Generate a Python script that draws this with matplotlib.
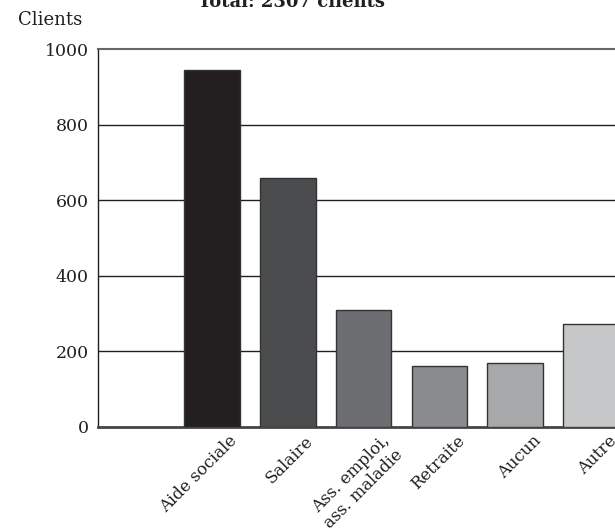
import numpy as np
import matplotlib.pyplot as plt
import matplotlib.transforms as mtransforms

# revenus principaux des clients
categories = ['', 'Aide sociale', 'Salaire', 'Ass. emploi,\nass. maladie',
              'Retraite', 'Aucun', 'Autre']
clients = [0, 946, 658, 310, 161, 170, 271]
colors = ['#ffffff', '#231f20', '#4b4c4e', '#6c6d70', '#8a8b8e', '#a7a8aa', '#c6c7c8']
yticks = [0, 200, 400, 600, 800, 1000]

plt.rcParams['font.family'] = 'DejaVu Serif'

fig = plt.figure(figsize=(6.15, 5.31), dpi=100)
ax = fig.add_axes([0.1598, 0.1964, 0.8628, 0.7107])

x = np.arange(len(categories))
# la premiere categorie reste vide
ax.bar(x[1:], clients[1:], width=0.735, color=colors[1:],
       edgecolor='#333333', linewidth=1, zorder=3)

ax.set_xlim(-0.5, 6.5)
ax.set_ylim(0, 1000)
ax.set_yticks(yticks)
ax.set_yticklabels([str(v) for v in yticks], fontsize=12.5, color='#231f20')
ax.tick_params(axis='y', length=0, pad=7)

for v in yticks[1:-1]:
    ax.axhline(v, color='#231f20', linewidth=1, zorder=1)

ax.set_xticks(x[1:])
ax.set_xticklabels(categories[1:], rotation=45, ha='right', va='top',
                   rotation_mode='anchor', fontsize=12, color='#231f20')
ax.tick_params(axis='x', length=0, pad=4)
# decaler les etiquettes vers la droite
offset = mtransforms.ScaledTranslation(17 / 100, 0, fig.dpi_scale_trans)
for lab in ax.get_xticklabels():
    lab.set_transform(lab.get_transform() + offset)

ax.spines['right'].set_visible(False)
ax.spines['top'].set_color('#666666')
ax.spines['top'].set_linewidth(1.5)
ax.spines['left'].set_color('#231f20')
ax.spines['left'].set_linewidth(1)
ax.spines['bottom'].set_color('#444444')
ax.spines['bottom'].set_linewidth(2)

fig.text(18 / 615, 1 - 25 / 531, 'Clients', fontsize=13, color='#231f20',
         ha='left', va='baseline')
fig.text(291 / 615, 1 - 7 / 531, 'Total: 2307 clients', fontsize=13,
         fontweight='bold', color='#231f20', ha='center', va='baseline')

fig.savefig('out.png', dpi=100)
